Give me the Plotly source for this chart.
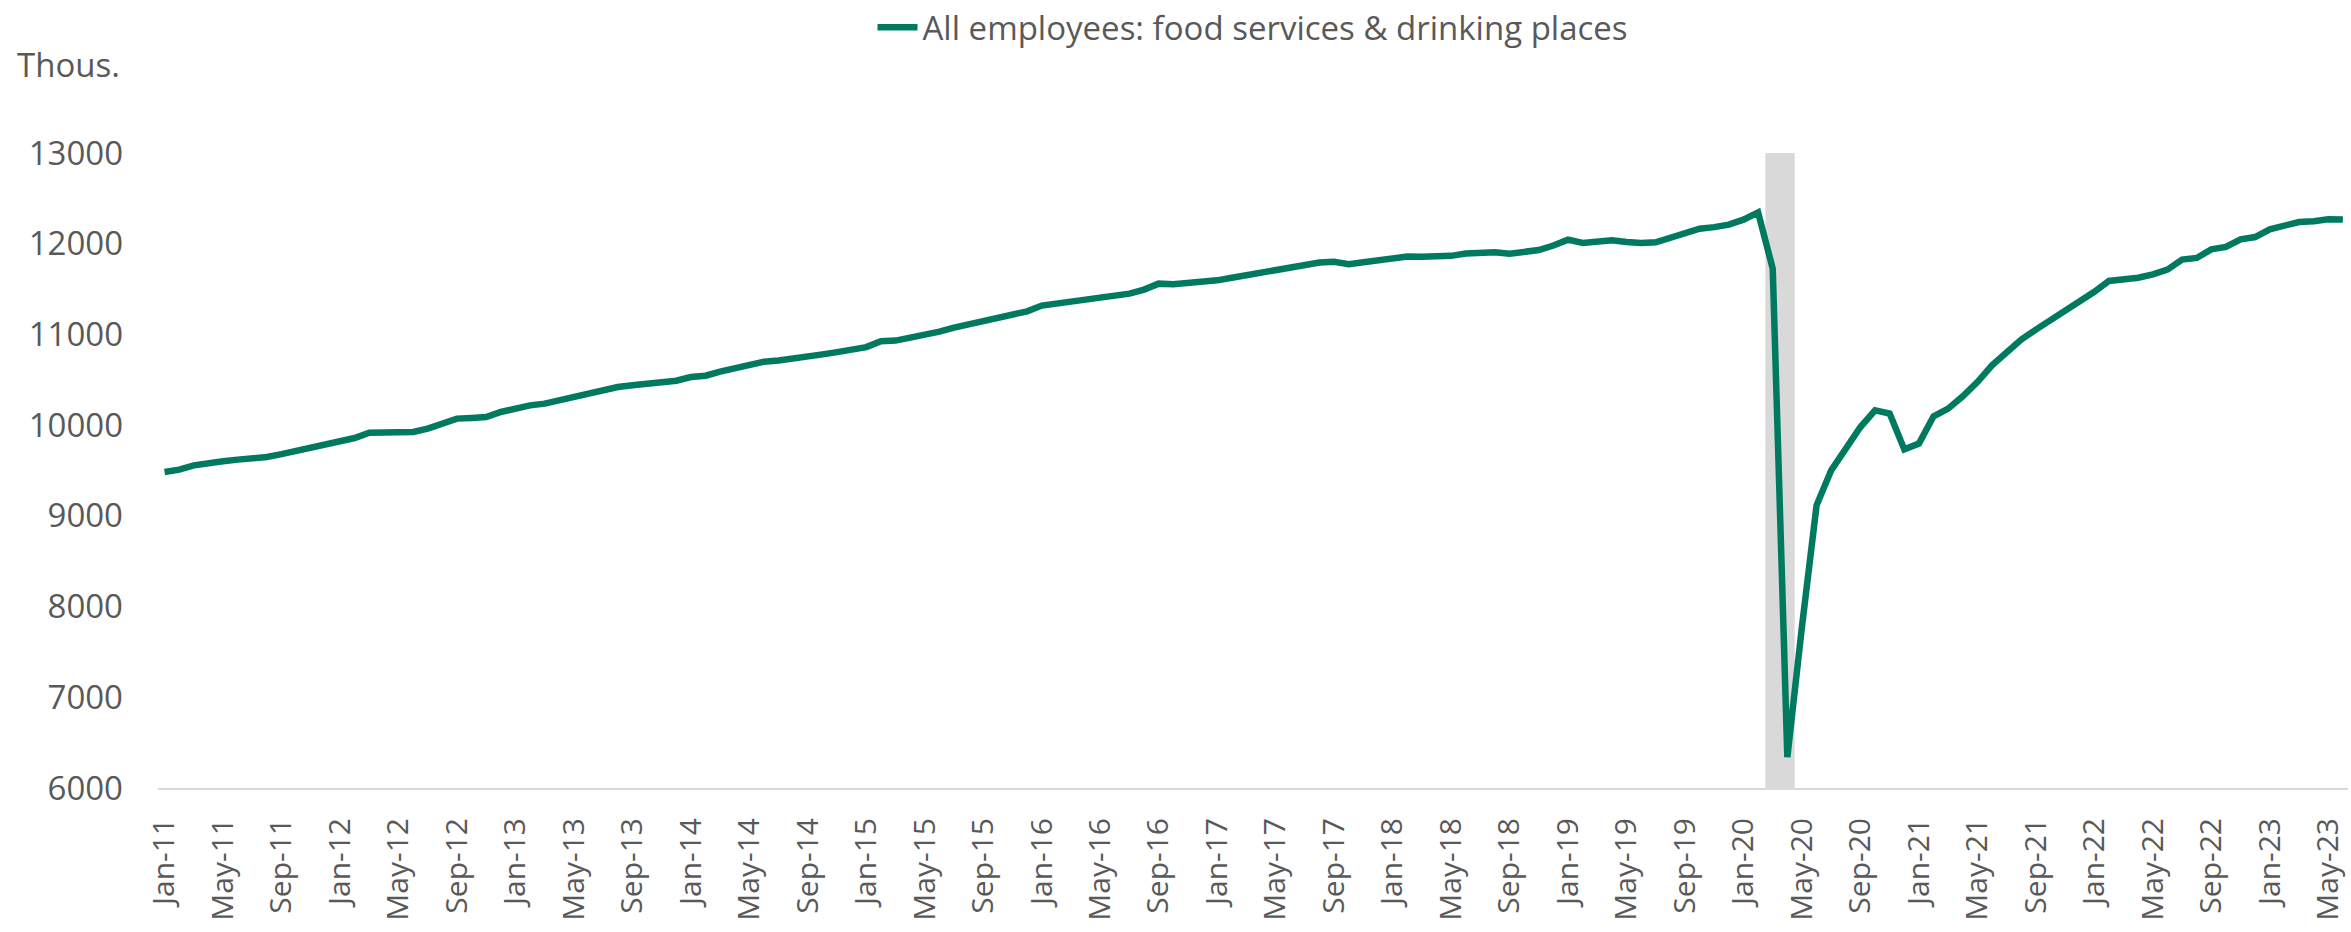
import pandas as pd
import plotly.graph_objects as go

# Monthly periods, Jan 2011 through Jun 2023
months = [d.strftime("%b-%y") for d in pd.date_range("2011-01-01", "2023-06-01", freq="MS")]

# All employees, food services & drinking places (thousands)
employees = [
    9483, 9510, 9557, 9587, 9601, 9620, 9627, 9649, 9680, 9712, 9759, 9778,
    9822, 9858, 9917, 9920, 9922, 9925, 9962, 10009, 10072, 10080, 10090, 10145,
    10182, 10218, 10237, 10274, 10310, 10347, 10392, 10420, 10440, 10455, 10475, 10490,
    10530, 10545, 10590, 10630, 10665, 10700, 10712, 10730, 10755, 10780, 10805, 10835,
    10860, 10925, 10932, 10965, 10995, 11030, 11075, 11110, 11150, 11195, 11230, 11255,
    11318, 11340, 11365, 11384, 11405, 11431, 11450, 11494, 11560, 11553, 11567, 11578,
    11596, 11625, 11655, 11683, 11700, 11728, 11770, 11792, 11800, 11775, 11795, 11822,
    11836, 11858, 11856, 11857, 11866, 11893, 11905, 11905, 11890, 11905, 11930, 11980,
    12045, 12008, 12018, 12038, 12020, 12008, 12015, 12060, 12120, 12165, 12183, 12210,
    12265, 12345, 11725, 6340, 7780, 9116, 9502, 9741, 9979, 10163, 10127, 9733,
    9796, 10097, 10182, 10318, 10475, 10660, 10806, 10943, 11053, 11156, 11258, 11357,
    11470, 11590, 11600, 11625, 11663, 11714, 11825, 11843, 11938, 11964, 12049, 12074,
    12159, 12203, 12239, 12247, 12269, 12266,
]

# Recession months shaded behind the series
recession = ["Mar-20", "Apr-20"]

y_ticks = [6000, 7000, 8000, 9000, 10000, 11000, 12000, 13000]
y_labels = [str(v) for v in y_ticks]
x_ticks = months[::4]

GREEN = "#007A5E"
GREY_TEXT = "#595959"
FONT = "Open Sans"
SIZE = 33

fig = go.Figure()

fig.add_trace(go.Scatter(
    x=months,
    y=employees,
    mode="lines",
    name="All employees: food services & drinking places",
    line=dict(color=GREEN, width=6.5),
))

r0 = months.index(recession[0]) - 0.5
r1 = months.index(recession[-1]) + 0.5
fig.add_shape(
    type="rect", xref="x", yref="y",
    x0=r0, x1=r1, y0=y_ticks[0], y1=y_ticks[-1],
    fillcolor="#D9D9D9", line=dict(width=0), layer="below",
)

fig.add_annotation(
    text="Thous.", xref="paper", yref="paper",
    x=-0.0653, y=1.1386, xanchor="left", yanchor="middle",
    showarrow=False, font=dict(family=FONT, size=SIZE, color=GREY_TEXT),
)

fig.update_layout(
    width=2351, height=932,
    margin=dict(l=158, r=3, t=153, b=144, autoexpand=False),
    paper_bgcolor="white", plot_bgcolor="white",
    font=dict(family=FONT, size=SIZE, color=GREY_TEXT),
    showlegend=True,
    legend=dict(
        orientation="h", x=0.5, xanchor="center", y=1.198, yanchor="middle",
        font=dict(family=FONT, size=SIZE, color=GREY_TEXT),
        itemwidth=40, bgcolor="rgba(0,0,0,0)",
    ),
    xaxis=dict(
        type="category",
        automargin=False,
        range=[-0.45, 149.35],
        tickmode="array", tickvals=x_ticks, ticktext=x_ticks,
        tickangle=-90,
        showgrid=False, zeroline=False,
        showline=True, linecolor="#D9D9D9", linewidth=2,
        ticks="", ticklabelstandoff=16,
        tickfont=dict(family=FONT, size=30, color=GREY_TEXT),
    ),
    yaxis=dict(
        automargin=False,
        range=[6000, 13000],
        tickmode="array", tickvals=y_ticks, ticktext=y_labels,
        showgrid=False, zeroline=False, showline=False,
        ticks="", ticklabelstandoff=34,
        tickfont=dict(family=FONT, size=SIZE, color=GREY_TEXT),
    ),
)

fig.write_html("out.html")
